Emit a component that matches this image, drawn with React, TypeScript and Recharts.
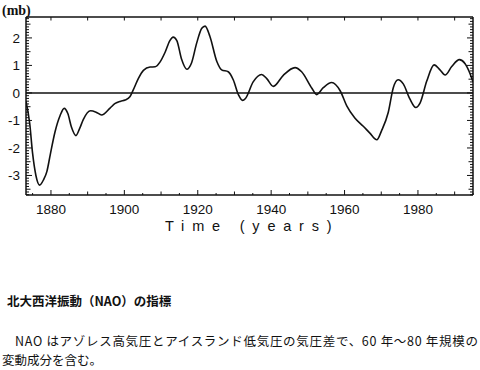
import React from 'react';
import { LineChart, Line, XAxis, YAxis, ReferenceLine } from 'recharts';

const years = [
  1873.2, 1874.2, 1875.0, 1875.9, 1876.9, 1878.0, 1878.9, 1879.8, 1881.1, 1882.5,
  1883.6, 1884.6, 1885.6, 1886.8, 1887.8, 1888.8, 1890.8, 1892.3, 1893.8, 1896.1,
  1897.5, 1899.0, 1900.2, 1901.5, 1902.4, 1903.8, 1905.2, 1907.0, 1908.4, 1909.7,
  1911.1, 1912.4, 1913.3, 1914.3, 1915.6, 1917.0, 1918.3, 1919.7, 1921.1, 1922.0,
  1923.3, 1925.2, 1926.5, 1928.3, 1929.7, 1931.1, 1932.2, 1933.0, 1935.1, 1937.4,
  1938.8, 1940.6, 1943.3, 1946.5, 1948.3, 1951.1, 1952.4, 1954.2, 1956.5, 1958.8,
  1960.6, 1962.8, 1965.1, 1966.9, 1968.8, 1970.1, 1971.9, 1973.3, 1974.6, 1976.0,
  1977.8, 1979.4, 1980.6, 1982.4, 1984.4, 1986.0, 1987.4, 1989.2, 1991.3, 1992.8,
  1994.2, 1995.0,
];

const naoValues = [
  -0.3, -1.1, -2.2, -3.0, -3.35, -3.15, -2.85, -2.25, -1.42, -0.82,
  -0.56, -0.75, -1.25, -1.55, -1.3, -0.97, -0.65, -0.7, -0.8, -0.55,
  -0.38, -0.3, -0.26, -0.14, 0.1, 0.52, 0.82, 0.94, 0.95, 1.12,
  1.48, 1.9, 2.03, 1.9, 1.22, 0.86, 1.09, 1.81, 2.35, 2.43,
  2.06, 1.14, 0.84, 0.77, 0.47, -0.07, -0.27, -0.2, 0.4, 0.67,
  0.52, 0.24, 0.64, 0.92, 0.77, 0.17, -0.06, 0.19, 0.38, 0.08,
  -0.47, -0.91, -1.21, -1.46, -1.7, -1.37, -0.71, 0.2, 0.48, 0.33,
  -0.22, -0.53, -0.36, 0.43, 1.02, 0.84, 0.65, 0.96, 1.21, 1.07,
  0.7, 0.4,
];

const xTickLabels = [1880, 1900, 1920, 1940, 1960, 1980];
const yTickLabels = [-3, -2, -1, 0, 1, 2];

const xDomain: [number, number] = [1873.2, 1995];
const yDomain: [number, number] = [-3.71, 2.76];

const data = years.map((year, i) => ({ year, nao: naoValues[i] }));

const yMinorTicks: number[] = [];
for (let i = -37; i <= 27; i++) yMinorTicks.push(i / 10);
const xBottomTicks: number[] = [];
for (let y = 1875; y <= 1995; y += 5) xBottomTicks.push(y);
const xTopTicks: number[] = [];
for (let y = 1880; y <= 1990; y += 10) xTopTicks.push(y);

const INK = '#111';
const SANS = '"Liberation Sans", Arial, sans-serif';

const isInt = (v: number) => Math.abs(v - Math.round(v)) < 1e-6;
const isHalf = (v: number) => Math.abs(v * 2 - Math.round(v * 2)) < 1e-6;

const LeftTick = (props: any) => {
  const { x, y, payload } = props;
  const v = payload.value as number;
  const major = isInt(v) && yTickLabels.includes(Math.round(v));
  const len = isInt(v) ? 6 : isHalf(v) ? 4.5 : 3;
  return (
    <g>
      <line x1={x} y1={y} x2={x + len} y2={y} stroke={INK} strokeWidth={1} />
      {major && (
        <text x={x - 6} y={y} dy={4.8} textAnchor="end" fontFamily={SANS} fontSize={13.5} fill={INK}>
          {`${Math.round(v)}`}
        </text>
      )}
    </g>
  );
};

const RightTick = (props: any) => {
  const { x, y, payload } = props;
  const v = payload.value as number;
  const len = isInt(v) ? 6 : isHalf(v) ? 4.5 : 3;
  return <line x1={x} y1={y} x2={x - len} y2={y} stroke={INK} strokeWidth={1} />;
};

const BottomTick = (props: any) => {
  const { x, y, payload } = props;
  const v = payload.value as number;
  const major = xTickLabels.includes(v);
  const len = major ? 5 : v % 10 === 0 ? 3.5 : 2;
  return (
    <g>
      <line x1={x} y1={y} x2={x} y2={y - len} stroke={INK} strokeWidth={1} />
      {major && (
        <text x={x} y={y} dy={18.5} textAnchor="middle" fontFamily={SANS} fontSize={13.5} fill={INK}>
          {`${v}`}
        </text>
      )}
    </g>
  );
};

const TopTick = (props: any) => {
  const { x, y } = props;
  return <line x1={x} y1={y} x2={x} y2={y + 3.5} stroke={INK} strokeWidth={1} />;
};

export default function App() {
  return (
    <div style={{ position: 'absolute', left: 0, top: 0, width: 480, height: 370, background: '#fff' }}>
      <div style={{ position: 'absolute', left: 0, top: 0 }}>
        <LineChart width={480} height={250} data={data} margin={{ top: 16, right: 6, bottom: 35, left: 0 }}>
          <XAxis
            dataKey="year"
            type="number"
            domain={xDomain}
            allowDataOverflow
            ticks={xBottomTicks}
            interval={0}
            tickSize={0}
            tickMargin={0}
            tickLine={false}
            height={20}
            axisLine={{ stroke: INK, strokeWidth: 1.5 }}
            tick={<BottomTick />}
          />
          <XAxis
            xAxisId="top"
            orientation="top"
            dataKey="year"
            type="number"
            domain={xDomain}
            allowDataOverflow
            ticks={xTopTicks}
            interval={0}
            tickSize={0}
            tickMargin={0}
            tickLine={false}
            height={1}
            axisLine={{ stroke: INK, strokeWidth: 1.5 }}
            tick={<TopTick />}
          />
          <YAxis
            type="number"
            domain={yDomain}
            allowDataOverflow
            ticks={yMinorTicks}
            interval={0}
            tickSize={0}
            tickMargin={0}
            tickLine={false}
            width={26}
            axisLine={{ stroke: INK, strokeWidth: 1.5 }}
            tick={<LeftTick />}
          />
          <YAxis
            yAxisId="right"
            orientation="right"
            type="number"
            domain={yDomain}
            allowDataOverflow
            ticks={yMinorTicks}
            interval={0}
            tickSize={0}
            tickMargin={0}
            tickLine={false}
            width={1}
            axisLine={{ stroke: INK, strokeWidth: 1.5 }}
            tick={<RightTick />}
          />
          <ReferenceLine y={0} stroke={INK} strokeWidth={1.4} />
          <Line
            xAxisId="top"
            yAxisId="right"
            type="monotone"
            dataKey="nao"
            stroke="#fff"
            strokeOpacity={0}
            strokeWidth={1}
            dot={false}
            activeDot={false}
            isAnimationActive={false}
          />
          <Line
            type="monotone"
            dataKey="nao"
            stroke={INK}
            strokeWidth={1.6}
            dot={false}
            isAnimationActive={false}
          />
        </LineChart>
      </div>
      <svg
        width={480}
        height={370}
        style={{ position: 'absolute', left: 0, top: 0, pointerEvents: 'none' }}
      >
        <text x={2} y={15} fontFamily='"Liberation Serif", "Times New Roman", serif' fontWeight="bold" fontSize={14} fill={INK}>
          (mb)
        </text>
        <text x={165} y={231} fontFamily={SANS} fontSize={14.5} letterSpacing={7.8} fill={INK}>
          Time (years)
        </text>
        <text x={7} y={306} fontFamily='"Noto Sans CJK JP", sans-serif' fontWeight="bold" fontSize={12.5} fill={INK}>
          北大西洋振動（NAO）の指標
        </text>
        <text
          x={15}
          y={346}
          fontFamily='"Noto Sans CJK JP", sans-serif'
          fontSize={12.5}
          fill={INK}
          textLength={463}
          lengthAdjust="spacing"
        >
          NAO はアゾレス高気圧とアイスランド低気圧の気圧差で、60 年～80 年規模の
        </text>
        <text x={2} y={365} fontFamily='"Noto Sans CJK JP", sans-serif' fontSize={12.5} fill={INK}>
          変動成分を含む。
        </text>
      </svg>
    </div>
  );
}
